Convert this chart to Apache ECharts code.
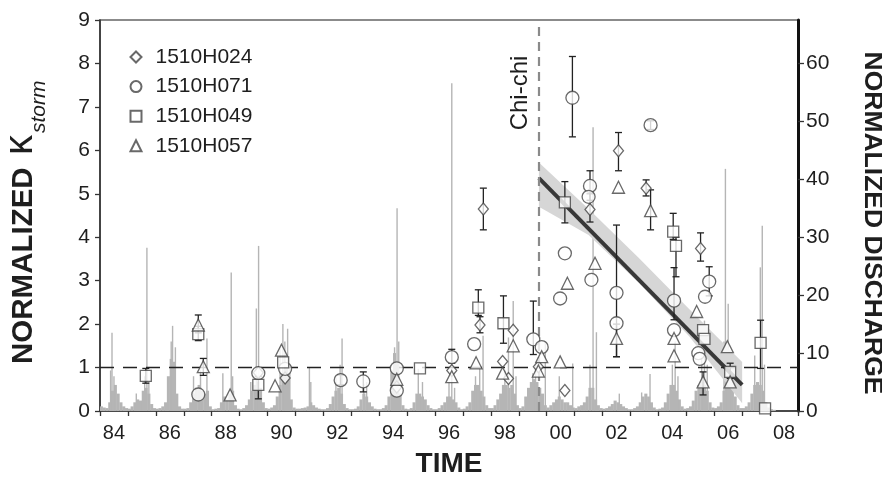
<!DOCTYPE html>
<html>
<head>
<meta charset="utf-8">
<script src="https://cdn.jsdelivr.net/npm/echarts@6/dist/echarts.min.js"></script>
<style>
  html, body { margin: 0; padding: 0; background: #fff; }
  #chart { width: 882px; height: 477px; }
</style>
</head>
<body>
<div id="chart"></div>
<script>
// Year labels (one category per calendar year, labels centred in the year)
const yearLabels = ['84','85','86','87','88','89','90','91','92','93','94','95','96',
  '97','98','99','00','01','02','03','04','05','06','07','08'];
const timeMin = 84, timeMax = 109;

// Right axis ticks (normalized discharge)
const dischargeTicks = [0, 10, 20, 30, 40, 50, 60];

// Normalized discharge: seasonal base flow, 10 samples per year from 84.05
const flowStart = 84.05, flowStep = 0.1;
const flowBase = [
  0.8,0.6,0.5,1.5,3.5,4.5,3.0,1.5,0.8,0.5,   // 84
  0.4,0.8,1.5,2.0,1.8,3.5,4.0,3.0,1.2,0.5,   // 85
  0.4,0.5,0.8,1.5,6.0,9.0,8.5,3.0,0.8,0.4,   // 86
  0.4,0.5,1.5,3.0,4.0,4.5,3.5,3.0,3.5,0.8,   // 87
  0.3,0.4,0.5,1.5,2.5,2.0,3.0,3.5,1.0,0.4,   // 88
  0.3,0.5,1.0,2.0,3.5,4.5,5.0,4.0,1.5,0.5,   // 89
  0.4,0.6,1.0,2.5,4.5,6.5,7.5,6.0,2.0,0.6,   // 90
  0.4,0.4,0.5,0.6,0.8,1.5,1.0,0.6,0.4,0.3,   // 91
  0.3,0.5,1.2,2.5,3.5,4.0,3.0,1.2,0.5,0.3,   // 92
  0.3,0.4,0.8,2.0,3.0,2.5,1.5,0.8,0.4,0.3,   // 93
  0.3,0.5,1.0,2.5,7.0,10.0,8.5,3.0,1.0,0.4,  // 94
  0.3,0.5,1.5,3.0,3.0,2.5,2.0,1.0,0.5,0.3,   // 95
  0.3,0.5,1.0,1.5,2.5,2.5,2.0,1.5,0.6,0.3,   // 96
  0.4,0.8,1.5,3.5,4.5,4.5,3.5,2.5,1.0,0.5,   // 97
  0.5,1.0,2.0,3.0,4.5,4.5,4.0,4.5,3.0,1.0,   // 98
  0.5,0.8,2.5,4.0,5.0,5.5,5.0,4.0,3.0,1.0,   // 99
  0.6,1.0,1.5,2.0,2.5,2.0,1.5,1.5,1.0,0.6,   // 00
  0.5,0.8,1.0,1.5,2.5,4.0,4.0,2.0,1.0,0.5,   // 01
  0.4,0.5,0.8,1.2,1.8,1.5,1.2,0.8,0.5,0.3,   // 02
  0.3,0.5,0.8,1.5,2.5,3.0,2.5,1.5,0.6,0.3,   // 03
  0.4,0.6,1.5,3.0,4.5,4.5,3.5,2.0,0.8,0.4,   // 04
  0.5,0.8,1.8,3.5,4.5,5.0,4.5,3.5,1.5,0.6,   // 05
  0.5,0.8,1.5,3.5,5.5,6.5,5.0,2.5,1.0,0.5,   // 06
  0.5,0.8,1.5,3.0,4.5,5.0,4.5,3.5,1.5,0.6,   // 07
  0.3,0.2,0.0,0.0,0.0,0.0,0.0,0.0,0.0,0.0    // 08
];
// Storm peaks drawn as thin spikes [year, normalized discharge]
const flowPeaks = [
  [84.38,7],[84.43,13.5],[84.5,6],
  [85.3,3],[85.6,6],[85.68,28.2],[85.75,5],
  [86.55,12],[86.6,14.7],[86.7,11],
  [87.35,6],[87.6,7],[87.83,12.5],
  [88.4,6.5],[88.7,23.9],[88.75,6],
  [89.4,5],[89.6,17.7],[89.68,28.5],
  [90.45,11],[90.55,15],[90.62,12],[90.72,14.2],[90.8,8],
  [91.5,7.5],[91.55,5],
  [92.45,5.8],[92.6,8],[92.67,12.5],
  [93.45,4.7],[93.55,5],
  [94.55,11],[94.64,35],[94.7,12],
  [95.4,7.3],[95.55,5],
  [96.5,5],[96.6,56.6],[96.7,4],
  [97.45,6],[97.6,7.3],[97.72,13],
  [98.5,7],[98.63,12.7],[98.8,19],[98.9,6],
  [99.5,6.5],[99.6,8],[99.95,12],
  [100.45,6],[100.93,8.2],
  [101.55,8],[101.66,49],[101.78,13.6],
  [102.6,3],
  [103.4,3.2],[103.7,6.4],
  [104.5,8],[104.6,12],[104.7,6],
  [105.55,10],[105.65,15.6],[105.75,8],
  [106.35,12],[106.4,41.8],[106.5,18.5],[106.6,8],
  [107.45,9.6],[107.65,24.8],[107.72,32],[107.8,8]
];

// Normalized K_storm per gauging station [year, value]
const h024 = [[89.67,0.88],[90.63,0.76],[94.63,0.55],[96.6,0.93],[97.61,1.98],[97.73,4.65],
  [98.42,1.14],[98.63,0.75],[98.8,1.86],[99.7,1.02],[100.65,0.47],[101.55,4.64],
  [102.57,5.99],[103.56,5.13],[105.51,3.74]];
const h071 = [[87.52,0.38],[89.67,0.87],[90.63,0.97],[92.62,0.71],[93.43,0.68],[94.63,0.98],[94.63,0.47],
  [96.6,1.24],[97.4,1.54],[99.52,1.65],[99.82,1.47],[100.48,2.59],[100.65,3.63],[100.92,7.21],
  [101.55,5.18],[101.5,4.93],[101.6,3.02],[102.5,2.72],[102.5,2.02],[103.72,6.58],
  [104.56,2.54],[104.56,1.86],[105.43,1.33],[105.48,1.2],[105.67,2.63],[105.82,2.98]];
const h049 = [[85.64,0.81],[87.52,1.77],[89.67,0.6],[90.56,1.12],[95.46,0.98],[97.55,2.38],
  [98.45,2.02],[100.65,4.8],[104.53,4.13],[104.63,3.8],[105.6,1.86],[105.65,1.66],
  [106.57,0.9],[107.66,1.57],[107.82,0.06]];
const h057 = [[87.52,1.98],[87.7,1.02],[88.66,0.37],[90.27,0.58],[90.5,1.4],[94.63,0.73],
  [96.6,0.79],[97.47,1.11],[98.42,0.87],[98.8,1.5],[99.7,0.92],[99.82,1.25],[100.48,1.13],
  [100.74,2.94],[101.73,3.4],[102.5,1.67],[102.57,5.15],[103.72,4.61],[104.56,1.67],
  [104.56,1.27],[105.37,2.29],[105.6,0.67],[106.47,1.48],[106.57,0.67]];

// Error bars [year, low, high]
const err024 = [[97.61,1.8,2.17],[97.73,4.17,5.13],[101.55,4.35,5.0],[102.57,5.53,6.41],
  [103.56,4.95,5.32],[105.51,3.45,4.1]];
const err071 = [[92.62,0.6,0.83],[93.43,0.44,0.9],[96.6,1.1,1.42],[99.52,1.3,2.53],
  [100.92,6.31,8.16],[101.55,4.85,5.53],[102.5,1.25,4.28],[103.72,6.48,6.68],
  [104.56,2.1,3.3],[105.82,2.65,3.32]];
const err049 = [[85.64,0.64,0.98],[87.52,1.62,1.95],[89.67,0.28,0.8],[97.55,2.2,2.79],
  [98.45,1.56,2.65],[100.65,4.33,5.28],[104.53,3.95,4.55],[104.63,3.09,4.0],
  [106.57,0.75,1.1],[107.66,0.98,2.09]];
const err057 = [[87.52,1.8,2.21],[87.7,0.82,1.21],[102.5,1.25,2.0],[103.72,4.17,5.09],
  [105.6,0.37,0.9]];

// Post-earthquake trend and its confidence band
const chiChiYear = 99.72;
const trendLine = [[99.72, 5.36], [107.0, 0.6]];
const bandX = [99.72, 101.5, 103.3, 105.1, 107.0];
const bandUpper = [5.72, 4.65, 3.52, 2.35, 1.13];
const bandLower = [4.70, 4.05, 2.95, 1.72, 0.18];
const baseLevel = 1;

const stationNames = ['1510H024', '1510H071', '1510H049', '1510H057'];

const FONT = '"Liberation Sans", Arial, Helvetica, sans-serif';
const INK = '#1e1e1e';
const markerStyle = { color: '#fff', borderColor: '#444', borderWidth: 1.3 };

const flowData = flowBase.map((v, i) => [flowStart + i * flowStep, v]);

function barRender(widthFn) {
  return function (params, api) {
    const x = api.value(0), v = api.value(1);
    const top = api.coord([x, v]);
    const base = api.coord([x, 0]);
    const w = widthFn(api);
    return {
      type: 'rect',
      shape: { x: top[0] - w / 2, y: top[1], width: w, height: base[1] - top[1] },
      style: { fill: '#b5b5b5' }
    };
  };
}

function errorBars(data) {
  return {
    type: 'custom', xAxisIndex: 1, yAxisIndex: 0, data: data, z: 4, silent: true,
    renderItem: function (params, api) {
      const x = api.value(0);
      const p1 = api.coord([x, api.value(2)]);
      const p2 = api.coord([x, api.value(1)]);
      const hw = 3.5;
      const st = { stroke: '#222', lineWidth: 1.3 };
      return {
        type: 'group', children: [
          { type: 'line', shape: { x1: p1[0], y1: p1[1], x2: p2[0], y2: p2[1] }, style: st },
          { type: 'line', shape: { x1: p1[0] - hw, y1: p1[1], x2: p1[0] + hw, y2: p1[1] }, style: st },
          { type: 'line', shape: { x1: p2[0] - hw, y1: p2[1], x2: p2[0] + hw, y2: p2[1] }, style: st }
        ]
      };
    }
  };
}

function station(name, data, symbol, size) {
  return {
    name: name, type: 'scatter', xAxisIndex: 1, yAxisIndex: 0, data: data, z: 6,
    symbol: symbol, symbolSize: size, itemStyle: markerStyle
  };
}

const chart = echarts.init(document.getElementById('chart'));
chart.setOption({
  animation: false,
  backgroundColor: '#fff',
  textStyle: { fontFamily: FONT },
  grid: { left: 100, right: 84, top: 20, bottom: 66, show: true, borderColor: '#666', borderWidth: 1.5 },
  legend: {
    data: stationNames, orient: 'vertical', left: 124.5, top: 41,
    itemWidth: 11, itemHeight: 11, itemGap: 7.6,
    textStyle: { fontSize: 21, color: INK, fontFamily: FONT, lineHeight: 22, padding: [0, 0, 0, 9] },
    selectedMode: false
  },
  xAxis: [
    {
      type: 'category', data: yearLabels, boundaryGap: true, position: 'bottom',
      axisLine: { lineStyle: { color: '#333', width: 1.6 } },
      axisTick: { show: true, interval: 0, length: 5, lineStyle: { color: '#333', width: 1.3 } },
      axisLabel: { interval: 1, fontSize: 20, color: INK, margin: 12, fontFamily: FONT }
    },
    { type: 'value', min: timeMin, max: timeMax, show: false }
  ],
  yAxis: [
    {
      type: 'value', min: 0, max: 9, interval: 1, position: 'left',
      axisLine: { show: true, lineStyle: { color: '#333', width: 1.6 } },
      axisTick: { show: true, length: 5, lineStyle: { color: '#333', width: 1.3 } },
      axisLabel: { fontSize: 21, color: INK, margin: 10, fontFamily: FONT },
      splitLine: { show: false }
    },
    {
      type: 'value', min: 0, max: 67.5, position: 'right',
      axisLine: { show: true, lineStyle: { color: '#111', width: 3 } },
      axisTick: { show: true, length: 6, customValues: dischargeTicks, lineStyle: { color: '#333', width: 1.3 } },
      axisLabel: { fontSize: 21, color: INK, margin: 8, fontFamily: FONT, customValues: dischargeTicks },
      splitLine: { show: false }
    }
  ],
  graphic: [
    { type: 'text', x: 449, y: 464, silent: true,
      style: { text: 'TIME', font: 'bold 28px ' + FONT, fill: INK, align: 'center', verticalAlign: 'middle' } },
    { type: 'text', x: 24, y: 364, rotation: Math.PI / 2, silent: true,
      style: { text: 'NORMALIZED', font: 'bold 29.5px ' + FONT, fill: INK, align: 'left', verticalAlign: 'middle' } },
    { type: 'text', x: 21, y: 145, rotation: Math.PI / 2, silent: true,
      style: { text: 'κ', font: '40px ' + FONT, fill: INK, align: 'center', verticalAlign: 'middle' } },
    { type: 'text', x: 39, y: 133, rotation: Math.PI / 2, silent: true,
      style: { text: 'storm', font: 'italic 21px ' + FONT, fill: INK, align: 'left', verticalAlign: 'middle' } },
    { type: 'text', x: 872, y: 223, rotation: -Math.PI / 2, silent: true,
      style: { text: 'NORMALIZED DISCHARGE', font: 'bold 26.5px ' + FONT, fill: INK, align: 'center', verticalAlign: 'middle' } },
    { type: 'text', x: 520, y: 93, rotation: Math.PI / 2, silent: true,
      style: { text: 'Chi-chi', font: '24px ' + FONT, fill: INK, align: 'center', verticalAlign: 'middle' } }
  ],
  series: [
    { type: 'custom', xAxisIndex: 1, yAxisIndex: 1, data: flowData, z: 1, silent: true, clip: true,
      renderItem: barRender(api => api.size([flowStep, 0])[0] + 0.3) },
    { type: 'custom', xAxisIndex: 1, yAxisIndex: 1, data: flowPeaks, z: 1, silent: true, clip: true,
      renderItem: barRender(() => 1.4) },
    { type: 'custom', xAxisIndex: 1, yAxisIndex: 0, data: [0], z: 2, silent: true,
      renderItem: function (params, api) {
        const pts = [];
        bandX.forEach((x, i) => pts.push(api.coord([x, bandUpper[i]])));
        for (let i = bandX.length - 1; i >= 0; i--) pts.push(api.coord([bandX[i], bandLower[i]]));
        return { type: 'polygon', shape: { points: pts }, style: { fill: '#d6d6d6' } };
      } },
    { type: 'line', xAxisIndex: 1, yAxisIndex: 0, data: trendLine, z: 3, symbol: 'none', silent: true,
      lineStyle: { color: '#383838', width: 4 },
      markLine: {
        silent: true, symbol: ['none', 'none'], label: { show: false },
        data: [
          { yAxis: baseLevel, lineStyle: { color: '#222', width: 1.3, type: [14, 9] } },
          { xAxis: chiChiYear, lineStyle: { color: '#8a8a8a', width: 2.2, type: [9, 6] } }
        ]
      } },
    errorBars(err024), errorBars(err071), errorBars(err049), errorBars(err057),
    station('1510H024', h024, 'diamond', [10, 12]),
    station('1510H071', h071, 'circle', 13),
    station('1510H049', h049, 'rect', 11),
    station('1510H057', h057, 'triangle', 12)
  ]
});
</script>
</body>
</html>
